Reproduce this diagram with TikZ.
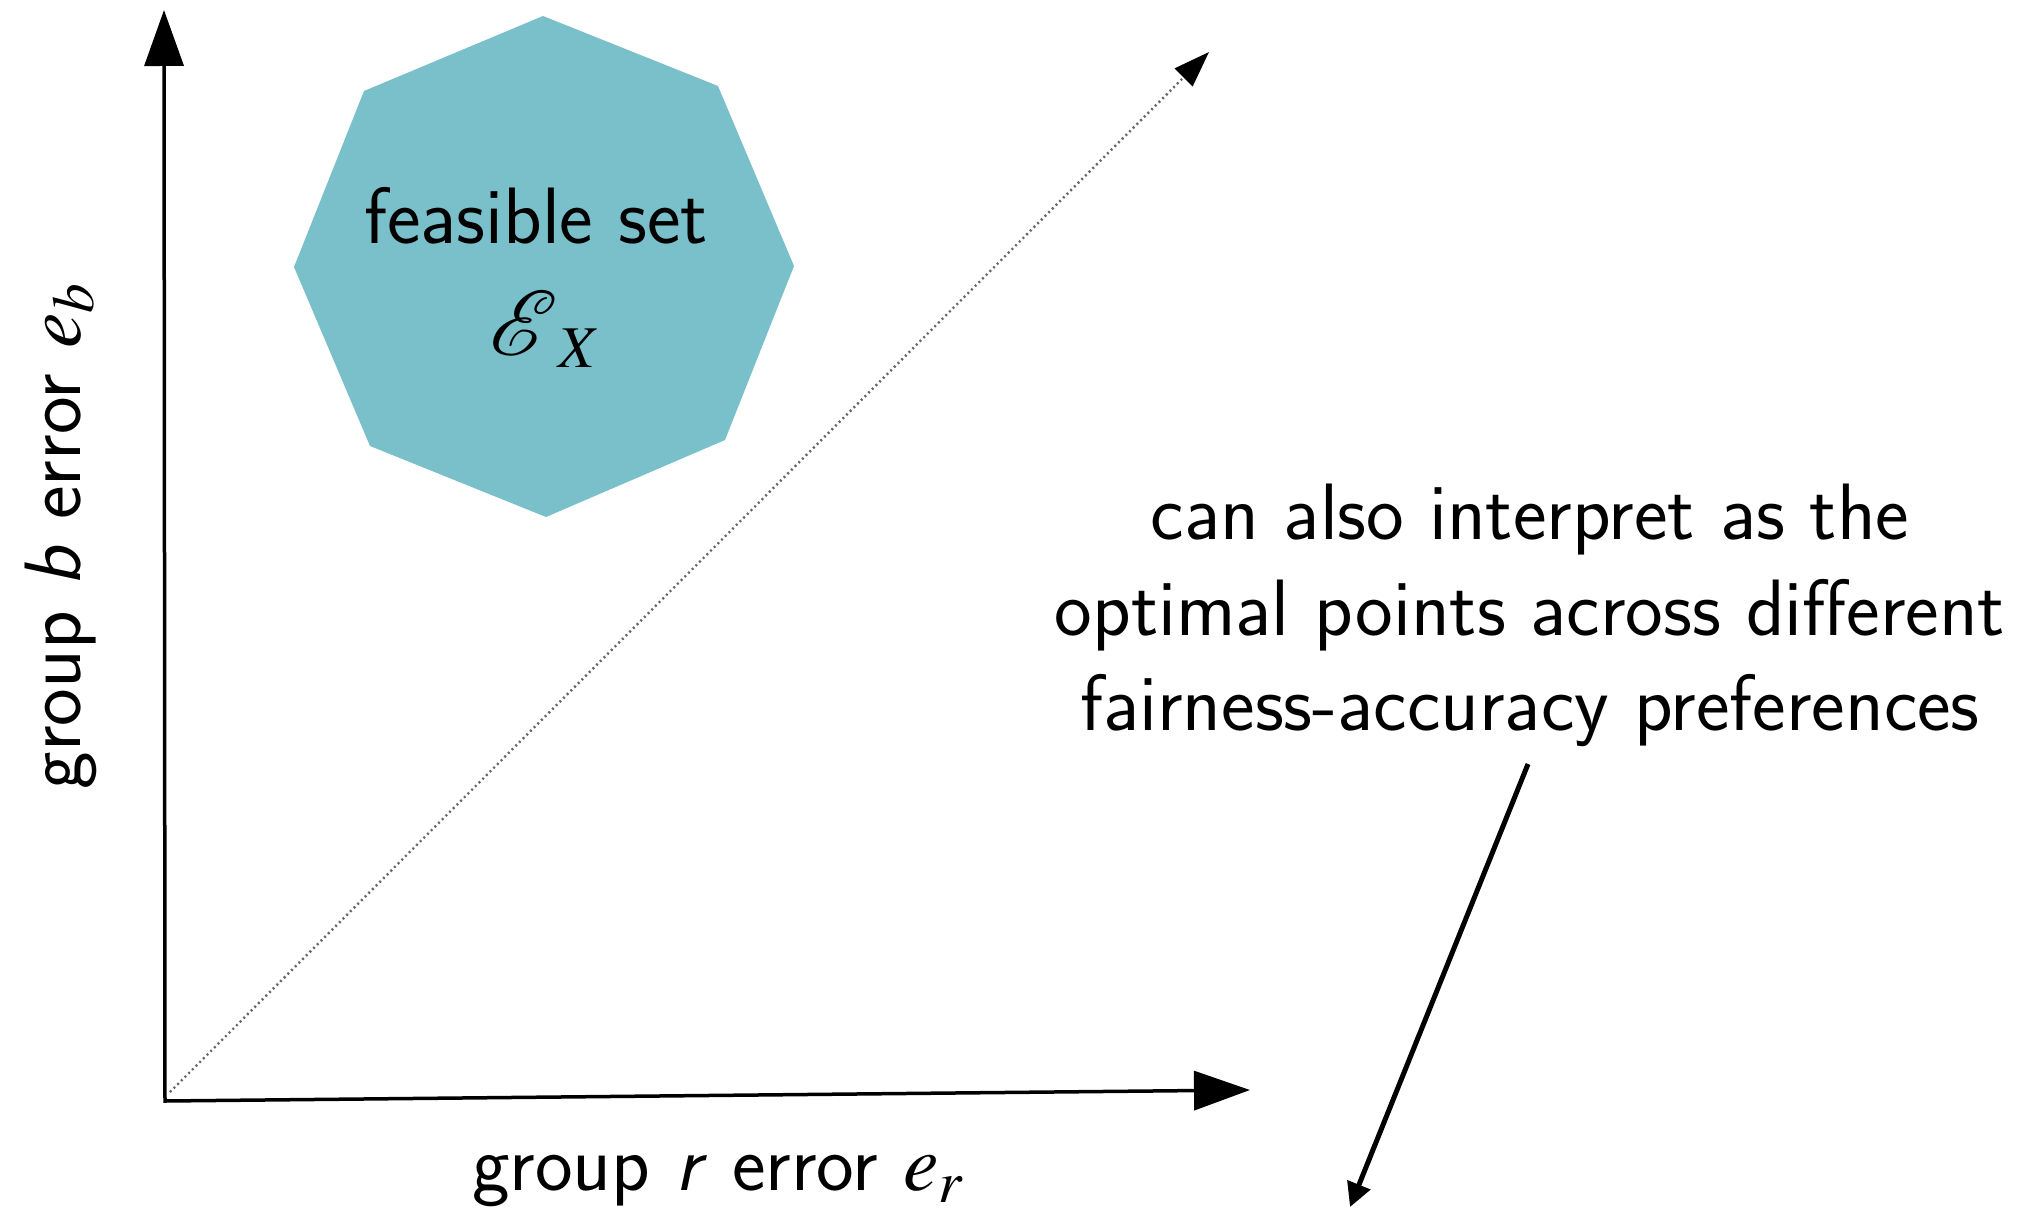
\documentclass[tikz,border=0pt]{standalone}
\usepackage{mathptmx}
\usepackage{mathrsfs}
\usetikzlibrary{arrows.meta}
\definecolor{feas}{RGB}{122,192,202}
\begin{document}
\begin{tikzpicture}[x=0.5pt,y=-0.5pt,
  txt/.style={font=\sffamily\fontsize{40}{47.75}\selectfont, inner sep=0pt},
  axisline/.style={line width=1.75pt, {Triangle[length=28pt,width=19.5pt]}-{Triangle[length=28pt,width=19.5pt]}},
  diag/.style={draw=black!60, line width=1.2pt, dash pattern=on 1pt off 1.6pt, -{Triangle[length=18pt,width=12.5pt,color=black]}},
  pointer/.style={line width=2.5pt, -{Triangle[length=12pt,width=12pt]}}]
\useasboundingbox (0,0) rectangle (2037,1209);
% axes
\coordinate (O) at (165,1101);
\coordinate (Ytop) at (164,10);
\coordinate (Xend) at (1250,1090);
\draw[axisline] (Ytop) -- (O) -- (Xend);
% diagonal
\coordinate (Dstart) at (170,1092);
\coordinate (Dend) at (1209,52);
\draw[diag] (Dstart) -- (Dend);
% feasible set octagon
\fill[feas] (543,16) -- (718,86) -- (794,266) -- (725,440) -- (546,517) -- (370,446) -- (294,267) -- (364,91) -- cycle;
\node[txt, anchor=base] (feasible) at (536,243) {feasible set};
\node[txt, anchor=base] (EX) at (545,355) {$\mbox{\scalebox{1.85}{$\mathscr{E}$}}_X$};
% axis labels
\node[txt, rotate=90, anchor=base] (ylab) at (80,536) {group \textit{b} error $e_b$};
\node[txt, anchor=base] (xlab) at (718,1190) {group \textit{r} error $e_r$};
% note
\node[txt, align=center, anchor=north] (note) at (1530,484) {can also interpret as the\\optimal points across different\\fairness-accuracy preferences};
\coordinate (Astart) at (1528,764);
\coordinate (Aend) at (1350,1207);
\draw[pointer] (Astart) -- (Aend);
\end{tikzpicture}
\end{document}
